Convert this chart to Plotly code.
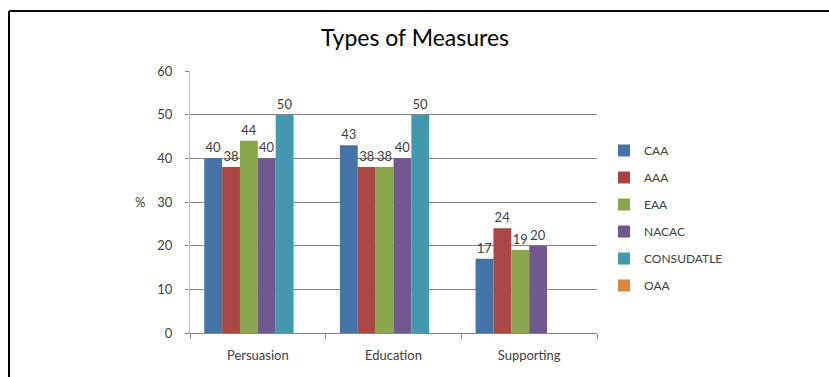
import plotly.graph_objects as go

categories = ["Persuasion", "Education", "Supporting"]
series_names = ["CAA", "AAA", "EAA", "NACAC", "CONSUDATLE", "OAA"]
caa = [40, 43, 17]
aaa = [38, 38, 24]
eaa = [44, 38, 19]
nacac = [40, 40, 20]
consudatle = [50, 50, None]
oaa = [None, None, None]
colors = ["#4572A7", "#AA4643", "#89A54E", "#71588F", "#4198AF", "#DB843D"]

values = [caa, aaa, eaa, nacac, consudatle, oaa]

fig = go.Figure()
for name, vals, col in zip(series_names, values, colors):
    fig.add_trace(go.Bar(
        x=categories, y=vals, name=name, legendgroup=name,
        marker=dict(color=col, line=dict(width=0)),
        text=[("" if v is None else str(v)) for v in vals],
        textposition="outside", cliponaxis=False,
        textfont=dict(size=13, color="#404040", family="Lato"),
    ))

L, R, T, B = 190, 597, 71, 333
W, H = 829, 377
pw, ph = R - L, B - T

def px(x):
    return (x - L) / pw

def py(y):
    return (B - y) / ph

fig.update_layout(
    width=W, height=H,
    margin=dict(l=L, r=W - R, t=T, b=H - B, pad=0),
    paper_bgcolor="white", plot_bgcolor="white",
    barmode="group", bargap=0.21, bargroupgap=0,
    font=dict(family="Lato", color="#404040", size=12),
    title=dict(text="Types of Measures", x=415 / W, xanchor="center",
               y=1 - 38 / H, yanchor="middle",
               font=dict(size=23, color="#000000", family="Lato")),
    xaxis=dict(showline=True, linecolor="#868686", linewidth=1,
               ticks="outside", tickson="boundaries", ticklen=5, tickcolor="#868686",
               ticklabelstandoff=10,
               tickfont=dict(size=13, color="#404040"), showgrid=False),
    yaxis=dict(range=[0, 60], dtick=10, showline=True, linecolor="#BEBEBE", linewidth=1,
               ticks="outside", ticklen=4, tickcolor="#868686", ticklabelstandoff=10,
               gridcolor="#868686", gridwidth=1, zeroline=False,
               tickfont=dict(size=13, color="#404040")),
    legend=dict(x=px(604), y=py(136), xanchor="left", yanchor="top",
                font=dict(size=12, color="#404040"), tracegroupgap=8,
                bgcolor="rgba(0,0,0,0)"),
    shapes=[
        dict(type="line", xref="paper", yref="paper",
             x0=px(9), x1=px(9), y0=py(380), y1=py(11),
             line=dict(color="black", width=2)),
        dict(type="line", xref="paper", yref="paper",
             x0=px(9), x1=px(830), y0=py(11), y1=py(11),
             line=dict(color="black", width=2)),
    ],
    annotations=[dict(text="%", xref="paper", yref="paper", x=px(147), y=py(202),
                      xanchor="right", showarrow=False,
                      font=dict(size=13, color="#404040"))],
)

fig.write_html("out.html", config={"displayModeBar": False},
               post_script="document.body.style.margin='0';")
